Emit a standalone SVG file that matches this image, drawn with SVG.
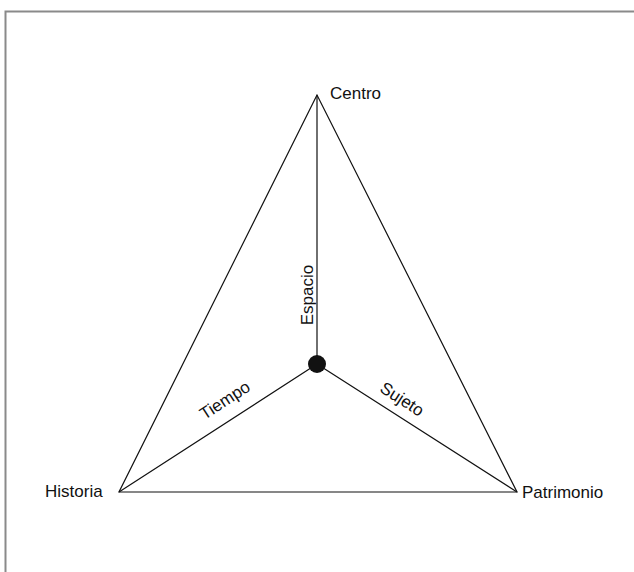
<svg xmlns="http://www.w3.org/2000/svg" width="634" height="572" viewBox="0 0 634 572">
<style>
.lbl{font-family:"Liberation Sans",Arial,sans-serif;font-size:17px;fill:#111}
.ln{stroke:#111;stroke-width:1.2;fill:none}
</style>
<rect x="0" y="0" width="634" height="572" fill="#fff"/>
<path d="M5.5,572 V11.5 H634" stroke="#8a8a8a" stroke-width="2" fill="none"/>
<g id="connectors">
<path class="ln" d="M317,95 L119,492 L517,492 Z"/>
<path class="ln" d="M317,95 V364 M317,364 L119,492 M317,364 L517,492"/>
</g>
<g id="centre"><circle cx="317" cy="364" r="9" fill="#111"/></g>
<g id="centro"><text class="lbl" x="330" y="99">Centro</text></g>
<g id="historia"><text class="lbl" x="45" y="497">Historia</text></g>
<g id="patrimonio"><text class="lbl" x="522" y="498">Patrimonio</text></g>
<g id="espacio"><text class="lbl" text-anchor="middle" transform="translate(313,295) rotate(-90)">Espacio</text></g>
<g id="tiempo"><text class="lbl" text-anchor="middle" transform="translate(228,405) rotate(-32.9)">Tiempo</text></g>
<g id="sujeto"><text class="lbl" text-anchor="middle" transform="translate(399,404) rotate(32.6)">Sujeto</text></g>
</svg>
